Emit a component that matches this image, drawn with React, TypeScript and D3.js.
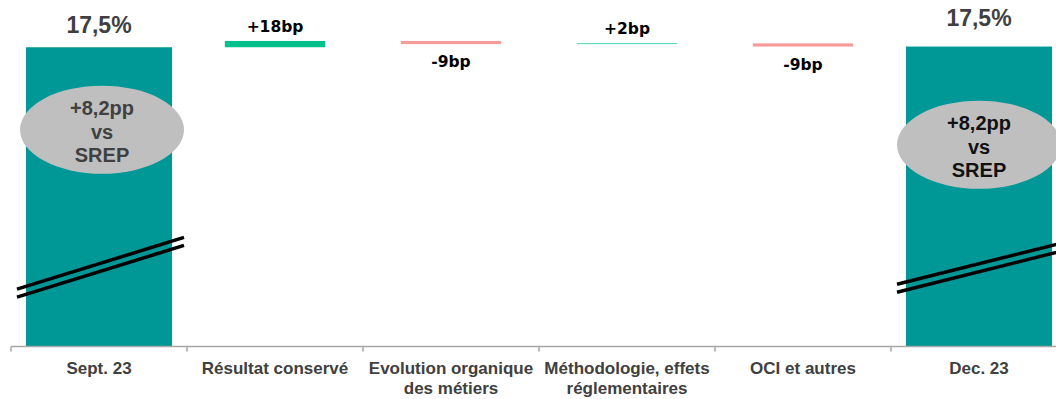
import React from "react";
import * as d3 from "d3";

const categories = [
  ["Sept. 23"],
  ["Résultat conservé"],
  ["Evolution organique", "des métiers"],
  ["Méthodologie, effets", "réglementaires"],
  ["OCI et autres"],
  ["Dec. 23"],
];
const startValue = 1750; // bp, CET1 17,5%
const deltas = [18, -9, 2, -9];
const deltaLabels = ["+18bp", "-9bp", "+2bp", "-9bp"];
const totalLabels = ["17,5%", "17,5%"];
const ellipseLines = ["+8,2pp", "vs", "SREP"];
const breakValue = 1120;

const W = 1056;
const H = 399;
const TEAL = "#009797";
const GREEN = "#00c08b";
const RED = "#f69a9a";
const GREY_TXT = "#404040";
const FONT = "'Liberation Sans', Arial, sans-serif";

export default function App() {
  const keys = categories.map((c) => c.join(" "));
  const x = d3.scaleBand<string>().domain(keys).range([11, 1067]).padding(0);
  const y = d3.scaleLinear().domain([895, 1885]).range([346.5, 0]);
  const bw = x.bandwidth();

  const cum: number[] = [startValue];
  deltas.forEach((d) => cum.push(cum[cum.length - 1] + d));
  const endValue = cum[cum.length - 1];
  const totals = [
    { key: keys[0], value: startValue, label: totalLabels[0], labelGap: 14.5, ellipseDy: -138, ellipseDx: 3, txt: GREY_TXT, tilt: 0.31 },
    { key: keys[5], value: endValue, label: totalLabels[1], labelGap: 20.5, ellipseDy: -123, ellipseDx: 0, txt: "#111", tilt: 0.25 },
  ];
  const steps = deltas.map((d, i) => ({
    key: keys[i + 1],
    from: cum[i],
    to: cum[i + 1],
    delta: d,
    label: deltaLabels[i],
  }));

  const base = y.domain()[0];
  const axisY = y(base);

  return (
    <svg
      width={W}
      height={H}
      style={{ position: "absolute", left: 0, top: 0, display: "block" }}
      fontFamily={FONT}
    >
      <rect width={W} height={H} fill="#fff" />
      {totals.map((t) => {
        const cx = (x(t.key) as number) + bw / 2;
        const w = bw * 0.83;
        const top = y(t.value);
        const by = y(breakValue);
        const ecx = cx + t.ellipseDx;
        const ecy = by + t.ellipseDy;
        return (
          <g key={t.key}>
            <rect x={cx - w / 2} y={top} width={w} height={axisY - top} fill={TEAL} />
            <text
              x={cx}
              y={top - t.labelGap}
              textAnchor="middle"
              fontSize={23}
              fontWeight="bold"
              fill={GREY_TXT}
            >
              {t.label}
            </text>
            <ellipse cx={ecx} cy={ecy} rx={82} ry={44} fill="#bfbfbf" />
            {ellipseLines.map((l, i) => (
              <text
                key={i}
                x={ecx}
                y={ecy + 9 + (i - 1) * 23.3}
                textAnchor="middle"
                fontSize={20}
                fontWeight="bold"
                fill={t.txt}
              >
                {l}
              </text>
            ))}
            {[-4, 4].map((o) => (
              <line
                key={o}
                x1={cx - 82}
                x2={cx + 85}
                y1={by + o + 82 * t.tilt}
                y2={by + o - 85 * t.tilt}
                stroke="#000"
                strokeWidth={3.5}
              />
            ))}
          </g>
        );
      })}
      {steps.map((s) => {
        const cx = (x(s.key) as number) + bw / 2;
        const w = bw * 0.57;
        const top = y(Math.max(s.from, s.to));
        const bot = y(Math.min(s.from, s.to));
        const up = s.delta >= 0;
        return (
          <g key={s.key}>
            <rect
              x={cx - w / 2}
              y={top}
              width={w}
              height={bot - top}
              fill={up ? GREEN : RED}
            />
            <text
              x={cx}
              y={up ? top - 9 : bot + 23}
              textAnchor="middle"
              fontSize={15.5}
              fontWeight="bold"
              fontFamily="'DejaVu Sans', Verdana, sans-serif"
              fill="#000"
            >
              {s.label}
            </text>
          </g>
        );
      })}
      <line x1={x.range()[0]} x2={W} y1={axisY} y2={axisY} stroke="#a6a6a6" strokeWidth={1.5} />
      {keys.concat(["end"]).map((k, i) => {
        const xx = x.range()[0] + i * bw;
        return <line key={k} x1={xx} x2={xx} y1={axisY} y2={axisY + 5} stroke="#a6a6a6" strokeWidth={1.5} />;
      })}
      {categories.map((c, i) => {
        const cx = (x(keys[i]) as number) + bw / 2;
        return (
          <text key={keys[i]} textAnchor="middle" fontSize={17} fontWeight="bold" fill={GREY_TXT}>
            {c.map((l, j) => (
              <tspan key={j} x={cx} y={374.3 + j * 19.5}>
                {l}
              </tspan>
            ))}
          </text>
        );
      })}
    </svg>
  );
}
